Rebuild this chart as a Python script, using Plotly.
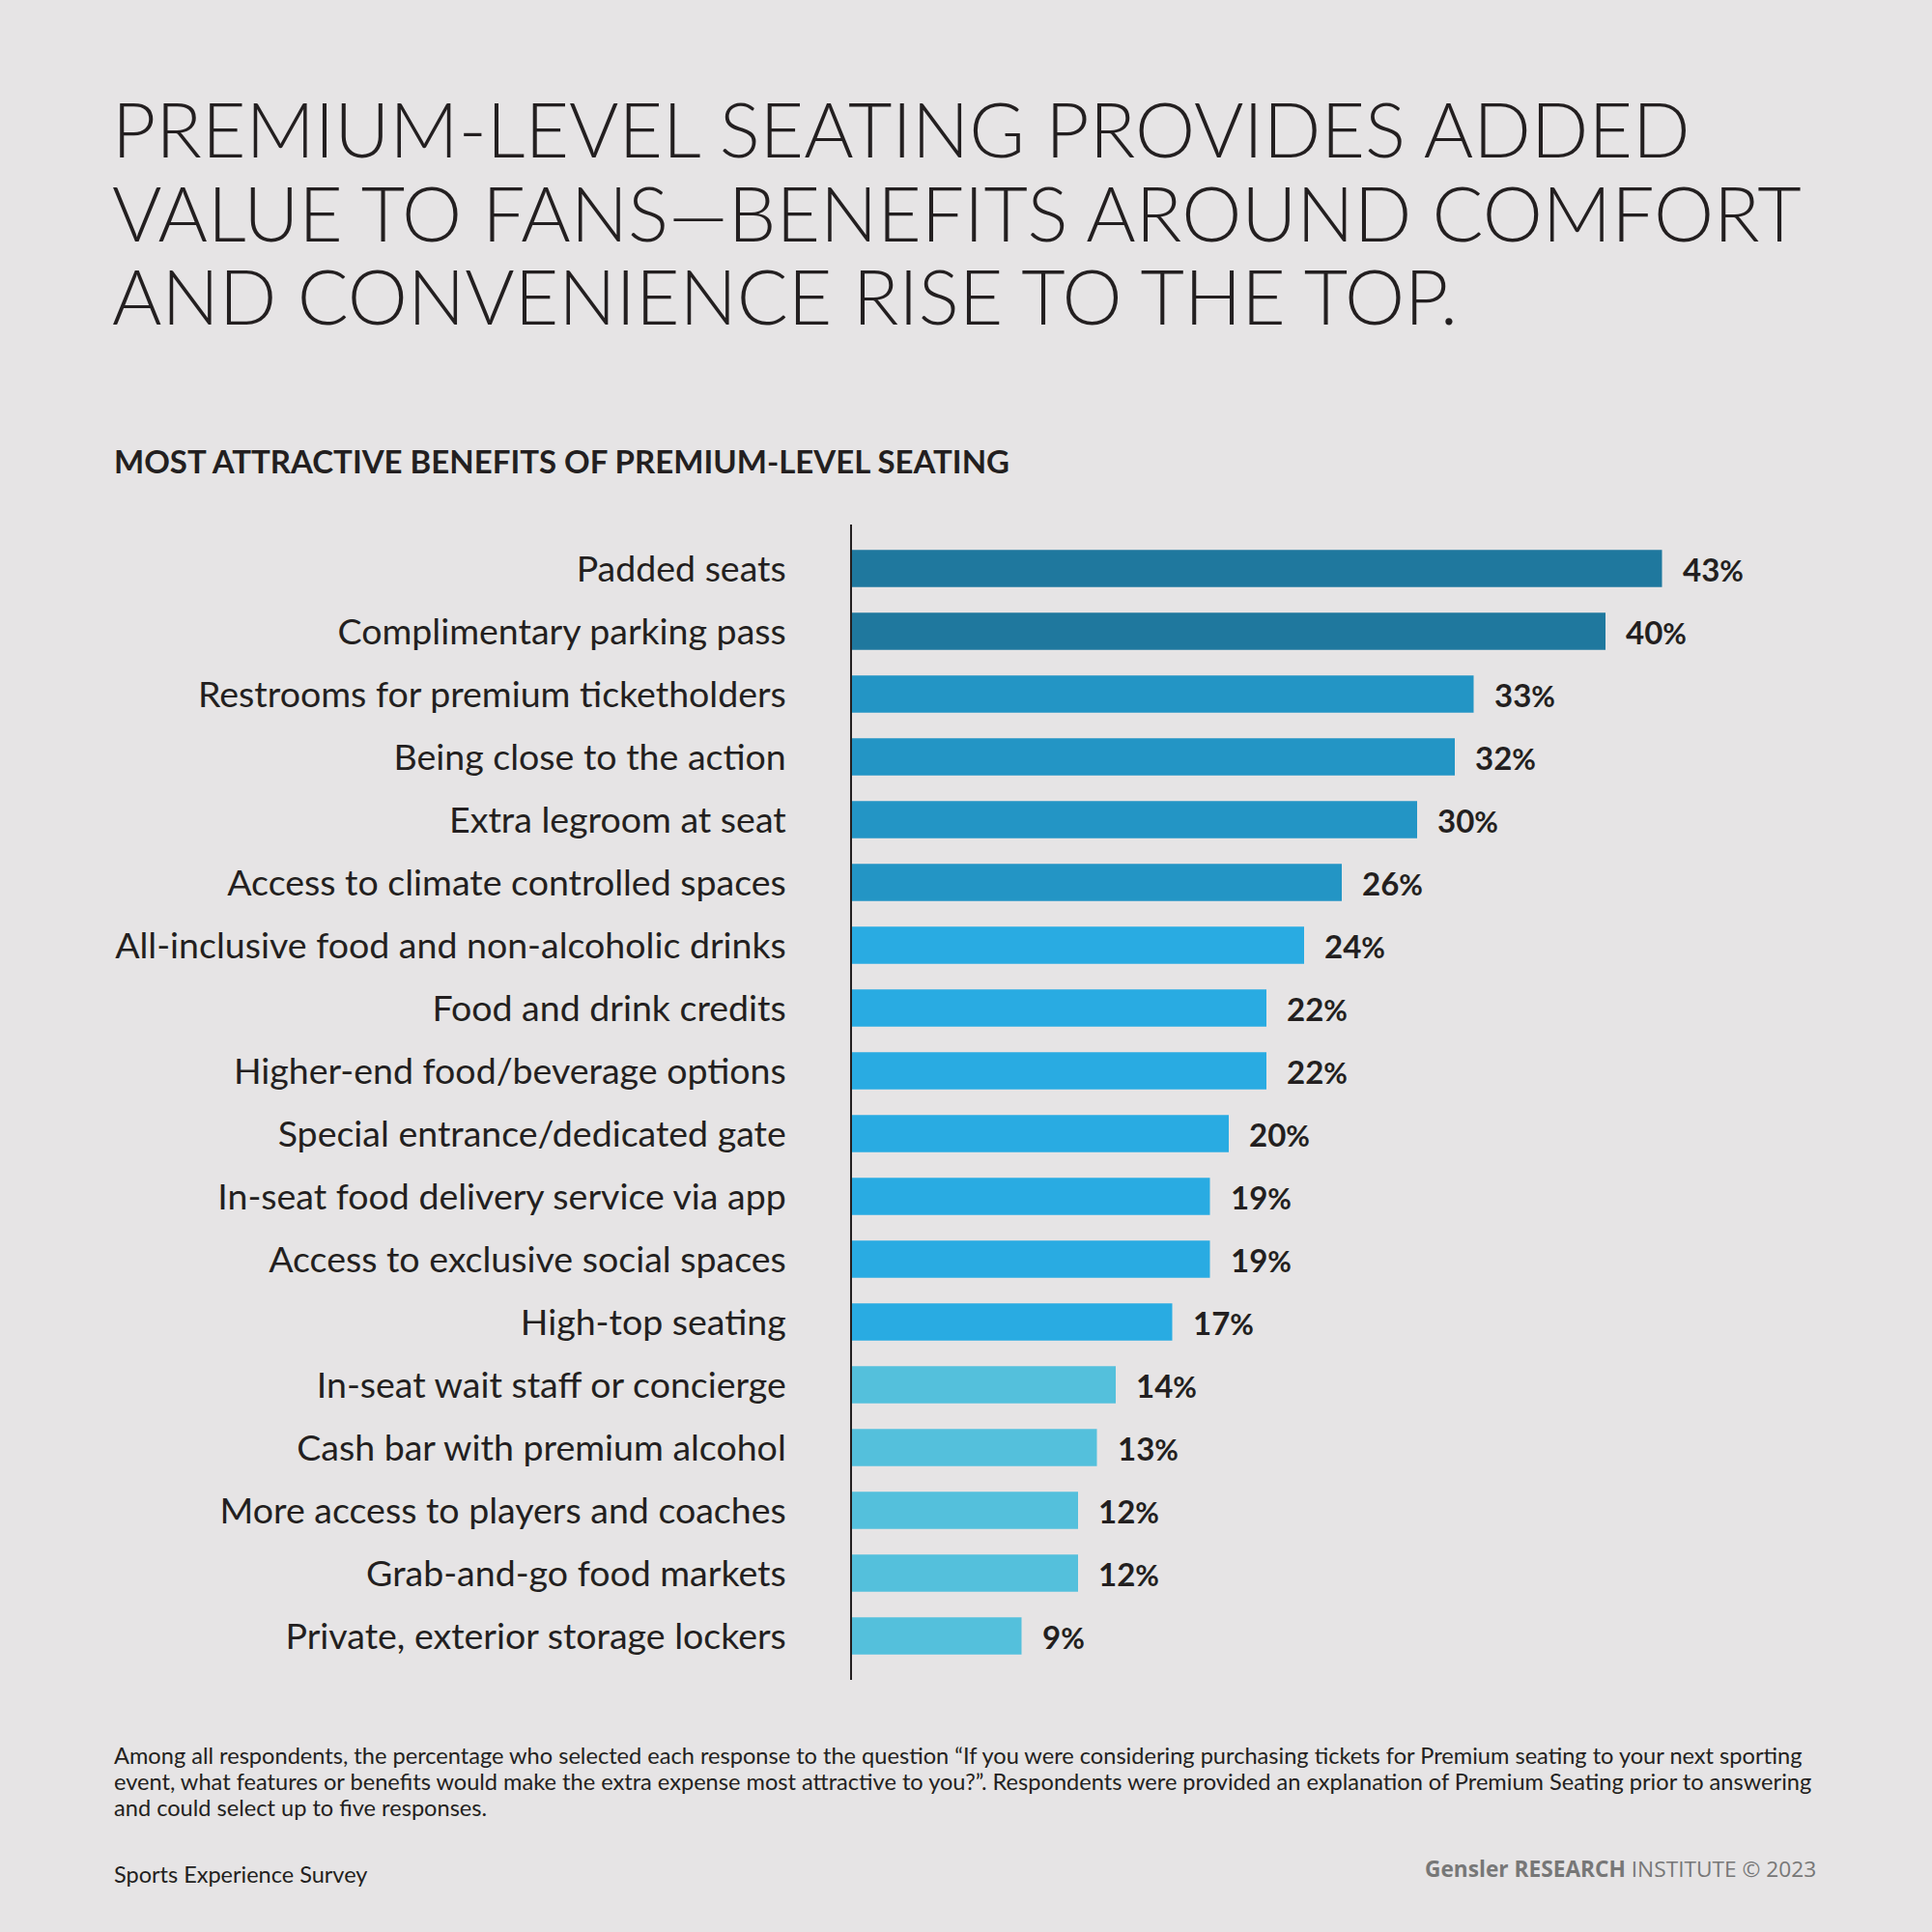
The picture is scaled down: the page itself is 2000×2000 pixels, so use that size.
import plotly.graph_objects as go

categories = [
    "Padded seats",
    "Complimentary parking pass",
    "Restrooms for premium ticketholders",
    "Being close to the action",
    "Extra legroom at seat",
    "Access to climate controlled spaces",
    "All-inclusive food and non-alcoholic drinks",
    "Food and drink credits",
    "Higher-end food/beverage options",
    "Special entrance/dedicated gate",
    "In-seat food delivery service via app",
    "Access to exclusive social spaces",
    "High-top seating",
    "In-seat wait staff or concierge",
    "Cash bar with premium alcohol",
    "More access to players and coaches",
    "Grab-and-go food markets",
    "Private, exterior storage lockers",
]
values = [43, 40, 33, 32, 30, 26, 24, 22, 22, 20, 19, 19, 17, 14, 13, 12, 12, 9]
tiers = [0, 0, 1, 1, 1, 1, 2, 2, 2, 2, 2, 2, 2, 3, 3, 3, 3, 3]
tier_colors = ["#1F789E", "#2395C5", "#29ABE2", "#54C0DC"]

title_lines = [
    "PREMIUM-LEVEL SEATING PROVIDES ADDED",
    "VALUE TO FANS\u2014BENEFITS AROUND COMFORT",
    "AND CONVENIENCE RISE TO THE TOP.",
]
subtitle = "MOST ATTRACTIVE BENEFITS OF PREMIUM-LEVEL SEATING"
footnote_lines = [
    "Among all respondents, the percentage who selected each response to the question \u201cIf you were considering purchasing tickets for Premium seating to your next sporting",
    "event, what features or benefits would make the extra expense most attractive to you?\u201d. Respondents were provided an explanation of Premium Seating prior to answering",
    "and could select up to five responses.",
]
source = "Sports Experience Survey"

BG = "#E6E4E5"
INK = "#231F20"
W = H = 2000
L, R, T, B = 882, 143, 543, 261
PW, PH = W - L - R, H - T - B


def px(x):
    return (x - L) / PW


def py(y):
    return (H - B - y) / PH


fig = go.Figure()
fig.add_trace(go.Bar(
    x=values, y=categories, orientation="h",
    marker=dict(color=[tier_colors[t] for t in tiers], line=dict(width=0)),
    hoverinfo="skip",
))

annotations = []
for c, v in zip(categories, values):
    annotations.append(dict(
        x=v, y=c, xref="x", yref="y", xanchor="left", yanchor="middle",
        xshift=19, showarrow=False,
        text=f"{v}<span style='font-size:30px'>%</span>",
        font=dict(family="Lato", size=33, color=INK, weight=700),
    ))

title_centers = [133, 220, 306]
for line, yc in zip(title_lines, title_centers):
    annotations.append(dict(
        x=px(114), y=py(yc), xref="paper", yref="paper", xanchor="left", yanchor="middle",
        showarrow=False, text=line,
        font=dict(family="Lato", size=78.5, color=INK, weight=300),
    ))

annotations.append(dict(
    x=px(116), y=py(477), xref="paper", yref="paper", xanchor="left", yanchor="middle",
    showarrow=False, text=subtitle,
    font=dict(family="Lato", size=33, color=INK, weight=700),
))

for line, yc in zip(footnote_lines, [1817, 1844, 1871]):
    annotations.append(dict(
        x=px(116), y=py(yc), xref="paper", yref="paper", xanchor="left", yanchor="middle",
        showarrow=False, text=line, align="left",
        font=dict(family="Lato", size=23.6, color=INK),
    ))

annotations.append(dict(
    x=px(116), y=py(1940), xref="paper", yref="paper", xanchor="left", yanchor="middle",
    showarrow=False, text=source,
    font=dict(family="Lato", size=23.5, color=INK),
))

annotations.append(dict(
    x=px(1882), y=py(1934), xref="paper", yref="paper", xanchor="right", yanchor="middle",
    showarrow=False,
    text="<b>Gensler RESEARCH</b> INSTITUTE \u00a9 2023",
    font=dict(family="Open Sans", size=22.7, color="#777777"),
))

fig.update_layout(
    width=W, height=H,
    margin=dict(l=L, r=R, t=T, b=B, autoexpand=False),
    paper_bgcolor=BG, plot_bgcolor=BG,
    showlegend=False,
    bargap=0.41,
    xaxis=dict(range=[0, 50], visible=False, fixedrange=True),
    yaxis=dict(
        categoryorder="array", categoryarray=categories,
        autorange=False, range=[17.7, -0.7], fixedrange=True,
        showline=True, linecolor=INK, linewidth=1.5,
        showgrid=False, zeroline=False, ticks="",
        ticklabelstandoff=59,
        tickfont=dict(family="Lato", size=37.5, color=INK),
    ),
    annotations=annotations,
)

fig.write_html(
    "out.html",
    config={"displayModeBar": False},
    post_script="document.body.style.margin='0';document.body.style.background='#E6E4E5';",
)
